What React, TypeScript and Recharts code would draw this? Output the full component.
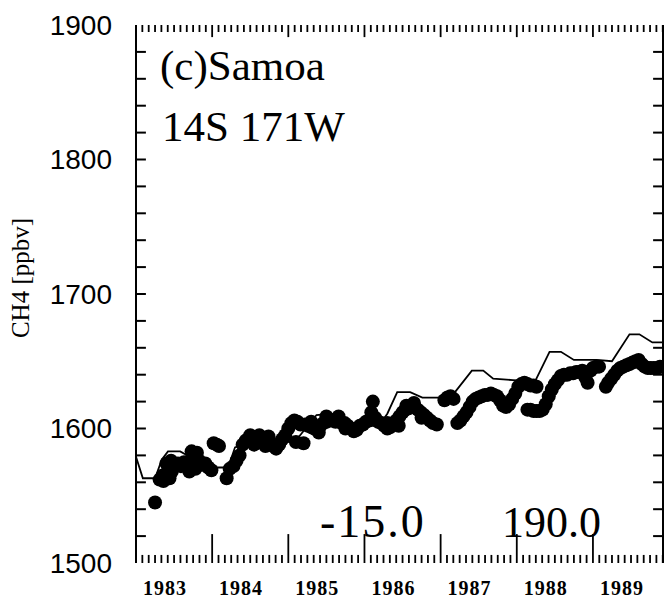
import React from 'react';
import { ComposedChart, Line, Scatter, XAxis, YAxis, ReferenceLine } from 'recharts';

// Model curve (thin line)
const modelYears = [1983.00, 1983.09, 1983.25, 1983.34, 1983.42, 1983.58, 1983.77, 1984.04, 1984.21, 1984.30, 1984.50, 1984.75, 1985.00, 1985.07, 1985.37, 1985.57, 1985.77, 1986.00, 1986.20, 1986.30, 1986.43, 1986.60, 1986.76, 1986.96, 1987.16, 1987.41, 1987.56, 1987.69, 1987.95, 1988.24, 1988.43, 1988.58, 1988.75, 1989.05, 1989.25, 1989.48, 1989.61, 1989.78, 1989.92];
const modelValues = [1579, 1563, 1563, 1577, 1583, 1583, 1577, 1571, 1571, 1586, 1590, 1592, 1590, 1589, 1610, 1611, 1605, 1601, 1603, 1611, 1627, 1627, 1623, 1623, 1625, 1643, 1643, 1637, 1636, 1635, 1657, 1657, 1651, 1651, 1650, 1670, 1670, 1664, 1664];

// Observations (filled dots)
const obsYears = [
  1983.25, 1983.31, 1983.35, 1983.39, 1983.43, 1983.47, 1983.51, 1983.55, 1983.59, 1983.63, 1983.67, 1983.71, 1983.75, 1983.79, 1983.83, 1983.87, 1983.91, 1983.95, 1983.99,
  1983.36, 1983.40, 1983.44, 1983.46, 1983.70, 1983.73, 1983.78, 1983.80,
  1984.02, 1984.06, 1984.09, 1984.19, 1984.23, 1984.28, 1984.32, 1984.36, 1984.40, 1984.44, 1984.48, 1984.52, 1984.56, 1984.60, 1984.64, 1984.68, 1984.72, 1984.76, 1984.80, 1984.84, 1984.88, 1984.92, 1984.96,
  1984.50, 1984.55, 1984.62, 1984.70, 1984.74,
  1985.00, 1985.04, 1985.08, 1985.10, 1985.12, 1985.16, 1985.20, 1985.22, 1985.26, 1985.30, 1985.34, 1985.38, 1985.42, 1985.46, 1985.50, 1985.54, 1985.58, 1985.62, 1985.66, 1985.70, 1985.74, 1985.78, 1985.82, 1985.86, 1985.90, 1985.94, 1985.98,
  1985.30, 1985.40, 1985.50, 1985.66, 1985.75,
  1986.02, 1986.06, 1986.09, 1986.11, 1986.14, 1986.18, 1986.22, 1986.26, 1986.30, 1986.34, 1986.38, 1986.42, 1986.46, 1986.50, 1986.54, 1986.58, 1986.62, 1986.66, 1986.70, 1986.74, 1986.78, 1986.82, 1986.86, 1986.90, 1986.95,
  1986.30, 1986.45, 1986.55, 1986.65, 1986.75,
  1987.05, 1987.09, 1987.13, 1987.17, 1987.22, 1987.26, 1987.30, 1987.34, 1987.38, 1987.42, 1987.46, 1987.50, 1987.54, 1987.58, 1987.62, 1987.66, 1987.70, 1987.74, 1987.78, 1987.82, 1987.86, 1987.90, 1987.94, 1987.98,
  1988.02, 1988.06, 1988.10, 1988.14, 1988.18, 1988.22, 1988.26,
  1988.14, 1988.18, 1988.22, 1988.26, 1988.30, 1988.34, 1988.38, 1988.42, 1988.46, 1988.50, 1988.54, 1988.58, 1988.62, 1988.66, 1988.70, 1988.74, 1988.78, 1988.82, 1988.86, 1988.90, 1988.93, 1988.97,
  1989.00, 1989.04, 1989.08, 1989.17, 1989.20, 1989.24, 1989.28, 1989.32, 1989.36, 1989.40, 1989.44, 1989.48, 1989.52, 1989.56, 1989.60, 1989.64, 1989.68, 1989.72, 1989.76, 1989.80, 1989.84, 1989.88, 1989.92,
];
const obsValues = [
  1545, 1562, 1565, 1566, 1569, 1568, 1572, 1574, 1572, 1575, 1572, 1576, 1580, 1578, 1576, 1573, 1574, 1571, 1569,
  1561, 1574, 1563, 1576, 1568, 1583, 1570, 1582,
  1589, 1588, 1587, 1563, 1570, 1572, 1576, 1580, 1588, 1591, 1592, 1591, 1592, 1591, 1592, 1590, 1591, 1590, 1587, 1585, 1588, 1592, 1595,
  1595, 1588, 1595, 1587, 1594,
  1600, 1604, 1606, 1590, 1605, 1603, 1589, 1603, 1602, 1601, 1600, 1599, 1602, 1604, 1605, 1606, 1606, 1605, 1606, 1604, 1604, 1602, 1600, 1598, 1599, 1602, 1603,
  1605, 1597, 1609, 1609, 1600,
  1605, 1606, 1612, 1620, 1608, 1605, 1604, 1602, 1600, 1601, 1604, 1606, 1609, 1612, 1614, 1615, 1616, 1616, 1614, 1612, 1610, 1608, 1606, 1604, 1603,
  1604, 1602, 1617, 1619, 1608,
  1621, 1623, 1624, 1622, 1604, 1606, 1609, 1612, 1616, 1620, 1622, 1623, 1624, 1625, 1625, 1626, 1625, 1624, 1621, 1617, 1616, 1618, 1622, 1626,
  1631, 1633, 1634, 1633, 1632, 1632, 1631,
  1614, 1614, 1613, 1613, 1613, 1614, 1618, 1624, 1629, 1633, 1636, 1639, 1640, 1640, 1641, 1641, 1642, 1642, 1643, 1638, 1634, 1643,
  1645, 1646, 1646, 1631, 1634, 1637, 1640, 1643, 1645, 1646, 1647, 1648, 1649, 1650, 1651, 1648, 1646, 1645, 1645, 1645, 1645, 1646, 1646,
];

const yearLabels = ['1983', '1984', '1985', '1986', '1987', '1988', '1989'];
const yLabelValues = [1500, 1600, 1700, 1800, 1900];
const yMinorStep = 20;
const xDomain: [number, number] = [1983, 1989.92];
const yDomain: [number, number] = [1500, 1900];

const modelData = modelYears.map((t, i) => ({ t, v: modelValues[i] }));
const obsData = obsYears.map((t, i) => ({ t, v: obsValues[i] }));

const yTicks: number[] = [];
for (let v = yDomain[0] + yMinorStep; v < yDomain[1]; v += yMinorStep) yTicks.push(v);

const monthTicks: number[] = [];
for (let y = 1983; y <= 1989; y++) {
  for (let m = 1; m < 12; m++) {
    const t = y + m / 12;
    if (t <= xDomain[1] + 1e-6) monthTicks.push(t);
  }
}
const yearTicks = yearLabels.map((s) => Number(s)).filter((y) => y > xDomain[0]);
const labelTicks = yearLabels.map((s) => Number(s) + 0.38);

// tick mark lengths expressed in axis units (ppbv / years)
const X_TICK_LEN = 0.13;
const BOTTOM_MINOR = 6;
const BOTTOM_MAJOR = 21.5;
const TOP_MINOR = 5.2;
const TOP_MAJOR = 9;

const SERIF = "'Liberation Serif', 'Times New Roman', Times, serif";
const SANS = "'Liberation Sans', Arial, Helvetica, sans-serif";

const tickStroke = { stroke: '#000', strokeWidth: 1.8 };

export default function App() {
  const ids = { xAxisId: 'months', yAxisId: 'left' };
  return (
    <div style={{ position: 'absolute', left: 0, top: 0, width: 667, height: 598, background: '#fff' }}>
      <ComposedChart width={667} height={598} margin={{ top: 25, right: 3, bottom: 0, left: 0 }}>
        <XAxis
          xAxisId="months"
          type="number"
          dataKey="t"
          domain={xDomain}
          allowDataOverflow
          ticks={monthTicks}
          interval={0}
          height={0}
          tick={false}
          tickLine={false}
          axisLine={{ stroke: '#000', strokeWidth: 2.5 }}
        />
        <XAxis
          xAxisId="labels"
          type="number"
          dataKey="t"
          domain={xDomain}
          allowDataOverflow
          ticks={labelTicks}
          interval={0}
          height={35}
          tickSize={0}
          tickMargin={0}
          tickFormatter={(v: number) => String(Math.floor(v))}
          tick={{ fontFamily: SERIF, fontWeight: 'bold', fontSize: 20, fill: '#000', dy: 18, letterSpacing: 1 } as any}
          axisLine={false}
          tickLine={false}
        />
        <XAxis
          xAxisId="top"
          orientation="top"
          type="number"
          dataKey="t"
          domain={xDomain}
          allowDataOverflow
          height={0}
          tick={false}
          tickLine={false}
          axisLine={{ stroke: '#000', strokeWidth: 2 }}
        />
        <YAxis
          yAxisId="left"
          type="number"
          dataKey="v"
          domain={yDomain}
          allowDataOverflow
          ticks={yLabelValues}
          interval={0}
          width={136}
          tickSize={0}
          tickMargin={24}
          tick={{ fontFamily: SANS, fontSize: 28, fill: '#000' } as any}
          axisLine={{ stroke: '#000', strokeWidth: 2 }}
          tickLine={false}
        />
        <YAxis
          yAxisId="right"
          orientation="right"
          type="number"
          dataKey="v"
          domain={yDomain}
          allowDataOverflow
          width={1}
          tick={false}
          tickLine={false}
          axisLine={{ stroke: '#000', strokeWidth: 2 }}
        />

        {/* inward tick marks on left and right frame */}
        {yTicks.map((v) => (
          <ReferenceLine key={`l${v}`} {...ids} segment={[{ x: xDomain[0], y: v }, { x: xDomain[0] + X_TICK_LEN, y: v }]} {...tickStroke} strokeWidth={2} />
        ))}
        {yTicks.map((v) => (
          <ReferenceLine key={`r${v}`} {...ids} segment={[{ x: xDomain[1], y: v }, { x: xDomain[1] - X_TICK_LEN, y: v }]} {...tickStroke} strokeWidth={2} />
        ))}
        {/* inward tick marks on bottom and top frame */}
        {monthTicks.map((t) => (
          <ReferenceLine key={`b${t}`} {...ids} segment={[{ x: t, y: yDomain[0] }, { x: t, y: yDomain[0] + BOTTOM_MINOR }]} {...tickStroke} />
        ))}
        {yearTicks.map((t) => (
          <ReferenceLine key={`B${t}`} {...ids} segment={[{ x: t, y: yDomain[0] }, { x: t, y: yDomain[0] + BOTTOM_MAJOR }]} {...tickStroke} />
        ))}
        {monthTicks.map((t) => (
          <ReferenceLine key={`t${t}`} {...ids} segment={[{ x: t, y: yDomain[1] }, { x: t, y: yDomain[1] - TOP_MINOR }]} {...tickStroke} />
        ))}
        {yearTicks.map((t) => (
          <ReferenceLine key={`T${t}`} {...ids} segment={[{ x: t, y: yDomain[1] }, { x: t, y: yDomain[1] - TOP_MAJOR }]} {...tickStroke} />
        ))}

        <Line
          xAxisId="months"
          yAxisId="left"
          data={modelData}
          dataKey="v"
          type="linear"
          stroke="#000"
          strokeWidth={1.8}
          dot={false}
          activeDot={false}
          isAnimationActive={false}
        />
        <Scatter
          xAxisId="months"
          yAxisId="left"
          data={obsData}
          dataKey="v"
          shape={(p: any) => <circle cx={p.cx} cy={p.cy} r={7} fill="#000" />}
          isAnimationActive={false}
        />
      </ComposedChart>
      <svg width={667} height={598} style={{ position: 'absolute', left: 0, top: 0, pointerEvents: 'none' }}>
        <text x={160} y={80} fontFamily={SERIF} fontSize={43} fill="#000">(c)Samoa</text>
        <text x={162} y={141} fontFamily={SERIF} fontSize={43} fill="#000">14S 171W</text>
        <text x={320} y={537} fontFamily={SERIF} fontSize={46} letterSpacing={2} fill="#000">-15.0</text>
        <text x={502} y={537} fontFamily={SERIF} fontSize={44} fill="#000">190.0</text>
        <text
          x={0}
          y={0}
          transform="translate(29 278) rotate(-90)"
          textAnchor="middle"
          fontFamily={SERIF}
          fontSize={25}
          fill="#000"
        >
          CH4 [ppbv]
        </text>
      </svg>
    </div>
  );
}
